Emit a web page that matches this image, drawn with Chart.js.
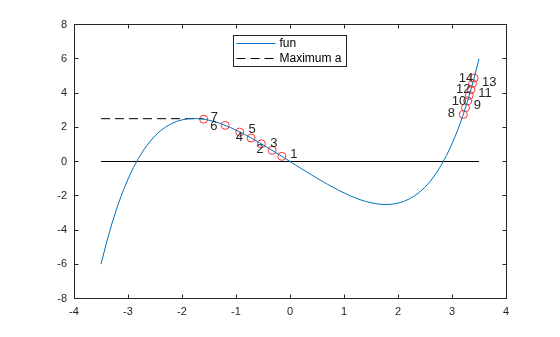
<!DOCTYPE html>
<html>
<head>
<meta charset="utf-8">
<script src="https://cdn.jsdelivr.net/npm/chart.js@4/dist/chart.umd.min.js"></script>
<style>
  body { margin: 0; background: #fff; }
  canvas { display: block; }
</style>
</head>
<body>
<canvas id="myChart" width="560" height="337"></canvas>
<script>
// curve samples
var funX = [-3.5, -3.4, -3.3, -3.2, -3.1, -3.0, -2.9, -2.8, -2.7, -2.6, -2.5, -2.4, -2.3, -2.2, -2.1, -2.0,
  -1.9, -1.8, -1.7, -1.6, -1.5, -1.4, -1.3, -1.2, -1.1, -1.0, -0.9, -0.8, -0.7, -0.6, -0.5, -0.4, -0.3, -0.2, -0.1,
  0, 0.1, 0.2, 0.3, 0.4, 0.5, 0.6, 0.7, 0.8, 0.9, 1.0, 1.1, 1.2, 1.3, 1.4, 1.5, 1.6, 1.7, 1.8, 1.9, 2.0,
  2.1, 2.2, 2.3, 2.4, 2.5, 2.6, 2.7, 2.8, 2.9, 3.0, 3.1, 3.2, 3.3, 3.4, 3.5]
var funY = [-6.00, -4.76, -3.65, -2.66, -1.79, -1.03, -0.36, 0.22, 0.72, 1.14, 1.50, 1.79, 2.02, 2.20, 2.34, 2.43,
  2.49, 2.51, 2.50, 2.47, 2.41, 2.33, 2.23, 2.11, 1.98, 1.83, 1.68, 1.51, 1.34, 1.16, 0.97, 0.78, 0.59, 0.40, 0.20,
  0, -0.20, -0.40, -0.59, -0.78, -0.97, -1.16, -1.34, -1.51, -1.68, -1.83, -1.98, -2.11, -2.23, -2.33, -2.41, -2.47, -2.50, -2.51, -2.49, -2.43,
  -2.34, -2.20, -2.02, -1.79, -1.50, -1.14, -0.72, -0.22, 0.36, 1.03, 1.79, 2.66, 3.65, 4.76, 6.00]

var zeroX = [-3.5, 3.5]
var zeroY = [0, 0]
var maxX = [-3.5, -1.6]
var maxY = [2.5, 2.5]

// iteration points and their number labels
var ptNames = ['1', '2', '3', '4', '5', '6', '7', '8', '9', '10', '11', '12', '13', '14']
var ptX = [-0.15, -0.53, -0.33, -0.93, -0.72, -1.20, -1.60, 3.21, 3.25, 3.29, 3.32, 3.35, 3.38, 3.41]
var ptY = [0.30, 1.03, 0.65, 1.72, 1.37, 2.11, 2.47, 2.75, 3.14, 3.54, 3.87, 4.20, 4.55, 4.87]
var labelX = [0.07, -0.56, -0.30, -0.94, -0.70, -1.41, -1.40, 2.99, 3.47, 3.13, 3.61, 3.21, 3.69, 3.26]
var labelY = [0.40, 0.69, 1.08, 1.39, 1.86, 2.05, 2.60, 2.78, 3.26, 3.50, 3.96, 4.20, 4.63, 4.88]

var xTicks = [-4, -3, -2, -1, 0, 1, 2, 3, 4]
var yTicks = [-8, -6, -4, -2, 0, 2, 4, 6, 8]
var legendNames = ['fun', 'Maximum a']

var axisColor = '#262626'
var fontFam = '"Liberation Sans", Arial, sans-serif'

function toPoints(xs, ys) {
  return xs.map(function(x, i) { return { x: x, y: ys[i] } })
}

var extras = {
  id: 'extras',
  afterDraw: function(chart) {
    var ctx = chart.ctx
    var a = chart.chartArea
    var sx = chart.scales.x
    var sy = chart.scales.y
    ctx.save()

    // box and inward ticks
    ctx.strokeStyle = axisColor
    ctx.lineWidth = 1
    var bl = Math.round(a.left) + 0.5, bt = Math.floor(a.top) + 0.5
    var br = Math.round(a.right) + 0.5, bb = Math.floor(a.bottom) + 0.5
    ctx.strokeRect(bl, bt, br - bl, bb - bt)
    var tl = 4
    ctx.beginPath()
    xTicks.forEach(function(t) {
      var px = Math.round(sx.getPixelForValue(t)) + 0.5
      ctx.moveTo(px, bb); ctx.lineTo(px, bb - tl)
      ctx.moveTo(px, bt); ctx.lineTo(px, bt + tl)
    })
    yTicks.forEach(function(t) {
      var py = Math.floor(sy.getPixelForValue(t)) + 0.5
      ctx.moveTo(bl, py); ctx.lineTo(bl + tl, py)
      ctx.moveTo(br, py); ctx.lineTo(br - tl, py)
    })
    ctx.stroke()

    // point labels
    ctx.fillStyle = axisColor
    ctx.font = '13px ' + fontFam
    ctx.textAlign = 'center'
    ctx.textBaseline = 'middle'
    ptNames.forEach(function(n, i) {
      ctx.fillText(n, sx.getPixelForValue(labelX[i]), sy.getPixelForValue(labelY[i]))
    })

    // legend
    var lx = bl + 159, ly = bt + 11, lw = 113, lh = 31
    ctx.fillStyle = '#fff'
    ctx.fillRect(lx, ly, lw, lh)
    ctx.strokeStyle = axisColor
    ctx.strokeRect(lx, ly, lw, lh)
    ctx.lineWidth = 1
    ctx.beginPath()
    ctx.strokeStyle = '#0072BD'
    ctx.moveTo(lx + 3, ly + 8); ctx.lineTo(lx + 42, ly + 8)
    ctx.stroke()
    ctx.beginPath()
    ctx.strokeStyle = '#000'
    ctx.setLineDash([9, 5])
    ctx.moveTo(lx + 3, ly + 23); ctx.lineTo(lx + 42, ly + 23)
    ctx.stroke()
    ctx.setLineDash([])
    ctx.fillStyle = '#000'
    ctx.font = '12px ' + fontFam
    ctx.textAlign = 'left'
    ctx.fillText(legendNames[0], lx + 46, ly + 8)
    ctx.fillText(legendNames[1], lx + 46, ly + 23)
    ctx.restore()
  }
}

Chart.defaults.font.family = fontFam
Chart.defaults.font.size = 11
Chart.defaults.color = axisColor

var ctx = document.getElementById('myChart')
var myChart = new Chart(ctx, {
  type: 'scatter',
  data: {
    datasets: [
      {
        label: legendNames[0],
        data: toPoints(funX, funY),
        showLine: true,
        borderColor: '#0072BD',
        borderWidth: 1,
        pointRadius: 0,
        tension: 0
      },
      {
        data: toPoints(zeroX, zeroY),
        showLine: true,
        borderColor: '#000',
        borderWidth: 1,
        pointRadius: 0
      },
      {
        label: legendNames[1],
        data: toPoints(maxX, maxY),
        showLine: true,
        borderColor: '#000',
        borderWidth: 1,
        borderDash: [9, 5],
        pointRadius: 0
      },
      {
        data: toPoints(ptX, ptY),
        showLine: false,
        pointStyle: 'circle',
        pointRadius: 4,
        pointBorderColor: '#FF3333',
        pointBackgroundColor: 'rgba(0,0,0,0)',
        pointBorderWidth: 1
      }
    ]
  },
  options: {
    responsive: false,
    animation: false,
    layout: { padding: { left: 0, top: 24.5, right: 54, bottom: 0 } },
    plugins: {
      legend: { display: false },
      tooltip: { enabled: false }
    },
    scales: {
      x: {
        type: 'linear',
        min: -4,
        max: 4,
        ticks: { stepSize: 1, padding: 7, color: axisColor },
        grid: { display: false, drawTicks: false },
        border: { display: false },
        afterFit: function(s) { s.height = 38.5 }
      },
      y: {
        type: 'linear',
        min: -8,
        max: 8,
        ticks: { stepSize: 2, padding: 7, color: axisColor },
        grid: { display: false, drawTicks: false },
        border: { display: false },
        afterFit: function(s) { s.width = 74 }
      }
    }
  },
  plugins: [extras]
})
</script>
</body>
</html>
